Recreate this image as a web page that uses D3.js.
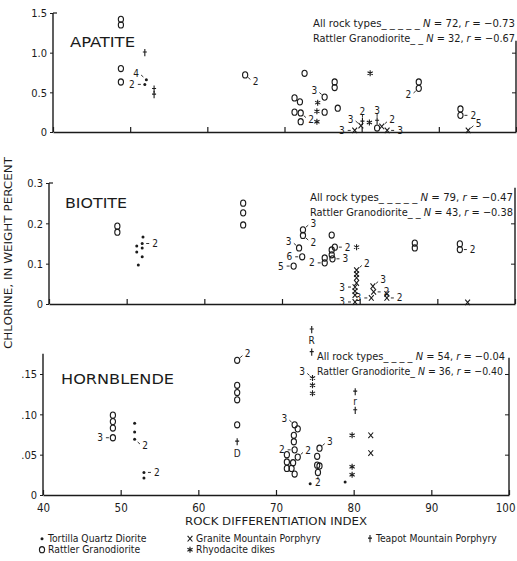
<!DOCTYPE html>
<html lang="en">
<head>
<meta charset="UTF-8">
<title>Chlorine vs rock differentiation index</title>
<script src="https://d3js.org/d3.v7.min.js"></script>
<style>
  body { margin: 0; background: #fff; }
  svg { display: block; }
  text { fill: #1b1b1b; font-family: "Liberation Sans Narrow", "DejaVu Sans Condensed", "Liberation Sans", sans-serif; }
</style>
</head>
<body>
<svg id="chart" width="517" height="561"></svg>
<script>
// ---- data ---------------------------------------------------------------
// point = [differentiation index, Cl weight percent, number of samples, side of the count]
const rockTypes = ["Tortilla Quartz Diorite", "Rattler Granodiorite", "Granite Mountain Porphyry", "Rhyodacite dikes", "Teapot Mountain Porphyry"];
const rockSymbols = ["dot", "circle", "x", "star", "plus"];

const xTickValues = [40, 50, 60, 70, 80, 90, 100];
const xTickLabels = ["40", "50", "60", "70", "80", "90", "100"];

// apatite
const apatiteTortilla = [[51.9, 0.60, 2, "w"], [52.1, 0.66, 4, "nw"]];
const apatiteRattler = [[48.8, 1.42], [48.8, 1.35], [48.8, 0.80], [48.8, 0.63], [64.9, 0.72, 2, "se"],
  [72.6, 0.74], [76.5, 0.63], [76.5, 0.56], [75.2, 0.44, 3, "nw"], [75.2, 0.25], [76.9, 0.30],
  [71.3, 0.43], [72.0, 0.38], [71.3, 0.25], [72.1, 0.24, 2, "se"], [72.1, 0.13], [82.0, 0.05],
  [87.4, 0.63], [87.4, 0.55, 2, "sw"], [92.8, 0.29], [92.8, 0.21, 2, "e"]];
const apatiteGranite = [[79.1, 0.02, 3, "w"], [79.9, 0.08, 3, "nw"], [83.3, 0.02, 3, "e"], [82.6, 0.07, 2, "ne"], [93.8, 0.02, 5, "ne"]];
const apatiteRhyodacite = [[81.1, 0.74], [74.3, 0.37], [74.2, 0.26], [74.2, 0.13], [81.0, 0.12]];
const apatiteTeapot = [[51.9, 1.00], [53.1, 0.54], [53.1, 0.47], [80.1, 0.13, 2, "n"], [82.0, 0.14, 3, "n"]];
const apatiteTicks = [0, 0.5, 1.0, 1.5];
const apatiteTickLabels = ["0", "0.5", "1.0", "1.5"];
const apatiteStats = [["All rock types_ _ _ _ _ ", 72, "\u22120.73"], ["Rattler Granodiorite_ _ ", 32, "\u22120.67"]];

// biotite
const biotiteTortilla = [[52.1, 0.166], [52.0, 0.150, 2, "e"], [51.3, 0.144], [52.0, 0.139], [51.3, 0.129], [52.0, 0.117], [51.5, 0.097]];
const biotiteRattler = [[48.8, 0.193], [48.8, 0.178], [65.0, 0.250], [65.0, 0.226], [65.0, 0.196],
  [72.7, 0.184, 3, "ne"], [72.7, 0.170, 2, "se"], [72.2, 0.139, 3, "nw"], [72.6, 0.117, 6, "w"], [71.5, 0.094, 5, "w"],
  [76.4, 0.171], [76.8, 0.141, 2, "e"], [76.4, 0.134], [76.4, 0.122], [76.5, 0.112, 3, "e"],
  [75.5, 0.114], [75.5, 0.102, 2, "w"], [87.1, 0.151], [87.1, 0.139], [92.9, 0.149], [92.9, 0.135, 2, "e"]];
const biotiteGranite = [[79.6, 0.084, 2, "ne"], [79.6, 0.074], [79.6, 0.065], [79.6, 0.052], [79.4, 0.042, 3, "w"],
  [79.4, 0.032], [79.4, 0.022], [79.4, 0.005, 3, "w"], [81.7, 0.044, 3, "ne"], [81.8, 0.030, 2, "e"],
  [81.5, 0.015, 3, "w"], [83.5, 0.025], [83.5, 0.015, 2, "e"], [93.9, 0.004]];
const biotiteRhyodacite = [[79.6, 0.141]];
const biotiteTeapot = [];
const biotiteTicks = [0, 0.1, 0.2, 0.3];
const biotiteTickLabels = ["0", "0.1", "0.2", "0.3"];
const biotiteStats = [["All rock types_ _ _ _ _ ", 79, "\u22120.47"], ["Rattler Granodiorite_ _ ", 43, "\u22120.38"]];

// hornblende
const hornblendeTortilla = [[51.8, 0.089], [51.8, 0.078], [51.8, 0.069, 2, "se"], [53.0, 0.028, 2, "e"], [53.0, 0.021], [78.9, 0.016], [74.4, 0.014]];
const hornblendeRattler = [[49.0, 0.099], [49.0, 0.091], [49.0, 0.083], [49.0, 0.071, 3, "w"],
  [65.0, 0.167, 2, "ne"], [65.0, 0.136], [65.0, 0.127], [65.0, 0.118], [65.0, 0.087],
  [72.4, 0.087, 3, "nw"], [72.8, 0.082], [72.3, 0.074], [72.3, 0.066], [72.4, 0.056, 2, "w"], [72.8, 0.047, 2, "ne"],
  [71.4, 0.050], [71.4, 0.041], [71.4, 0.033], [72.2, 0.040], [72.0, 0.033], [72.4, 0.026],
  [75.6, 0.058, 3, "ne"], [75.3, 0.048], [75.3, 0.037], [75.6, 0.036], [75.4, 0.028, 2, "s"]];
const hornblendeGranite = [[82.2, 0.074], [82.2, 0.052]];
const hornblendeRhyodacite = [[74.7, 0.145, 3, "nw"], [74.7, 0.136], [74.7, 0.126], [79.8, 0.074], [79.8, 0.035], [79.8, 0.025]];
const hornblendeTeapot = [[65.0, 0.066], [74.6, 0.205], [74.6, 0.177], [80.2, 0.128], [80.2, 0.105]];
const hornblendeNotes = [["D", 65.0, 0.052], ["R", 74.6, 0.191], ["r", 80.2, 0.116]];
const hornblendeTicks = [0, 0.05, 0.10, 0.15];
const hornblendeTickLabels = ["0", ".05", ".10", ".15"];
const hornblendeStats = [["All rock types_ _ _ _ ", 54, "\u22120.04"], ["Rattler Granodiorite_", 36, "\u22120.40"]];

// ---- layout (the scanned panels are not quite aligned) -------------------
const ink = "#1b1b1b";
const panels = [
  { title: "APATITE", series: [apatiteTortilla, apatiteRattler, apatiteGranite, apatiteRhyodacite, apatiteTeapot],
    ticks: apatiteTicks, tickLabels: apatiteTickLabels, stats: apatiteStats, notes: [],
    yMax: 1.5, axisTop: 1.5, rightTop: 1.15, left: 53, right: 516, bottom: 132, top: 13,
    titleX: 70, titleY: 47, titleLen: 65, statsX: 313, statsY: 27, statsLen: 202 },
  { title: "BIOTITE", series: [biotiteTortilla, biotiteRattler, biotiteGranite, biotiteRhyodacite, biotiteTeapot],
    ticks: biotiteTicks, tickLabels: biotiteTickLabels, stats: biotiteStats, notes: [],
    yMax: 0.3, axisTop: 0.3, rightTop: 0.288, left: 49, right: 515, bottom: 304, top: 183,
    titleX: 65, titleY: 208, titleLen: 62, statsX: 310, statsY: 201, statsLen: 203 },
  { title: "HORNBLENDE", series: [hornblendeTortilla, hornblendeRattler, hornblendeGranite, hornblendeRhyodacite, hornblendeTeapot],
    ticks: hornblendeTicks, tickLabels: hornblendeTickLabels, stats: hornblendeStats, notes: hornblendeNotes,
    yMax: 0.15, axisTop: 0.175, rightTop: 0.17, left: 43, right: 509, bottom: 495, top: 374,
    titleX: 61, titleY: 384, titleLen: 113, statsX: 317, statsY: 360, statsLen: 188 }
];

const svg = d3.select("#chart");

const symbolPaths = {
  x: "M-2.4,-2.8L2.4,2.8M2.4,-2.8L-2.4,2.8",
  plus: "M0,-3.6V3.6M-2,-0.6H2",
  star: "M0,-3V3M-2.6,-1.5L2.6,1.5M2.6,-1.5L-2.6,1.5"
};

function drawSymbol(g, kind) {
  if (kind === "dot") {
    g.append("circle").attr("r", 1.5).attr("fill", ink);
  } else if (kind === "circle") {
    g.append("ellipse").attr("rx", 2.6).attr("ry", 3.1)
      .attr("fill", "none").attr("stroke", ink).attr("stroke-width", 1.1);
  } else {
    g.append("path").attr("d", symbolPaths[kind])
      .attr("fill", "none").attr("stroke", ink).attr("stroke-width", 1.1);
  }
}

const dirs = { e: [1, 0], w: [-1, 0], n: [0, -1], s: [0, 1], ne: [0.75, -0.66], nw: [-0.75, -0.66], se: [0.75, 0.66], sw: [-0.75, 0.66] };

panels.forEach(p => {
  const x = d3.scaleLinear().domain([40, 100]).range([p.left, p.right]);
  const y = d3.scaleLinear().domain([0, p.yMax]).range([p.bottom, p.top]);
  const g = svg.append("g");
  const isLast = p.title === "HORNBLENDE";

  // left axis
  const yAxis = d3.axisLeft(y).tickValues(p.ticks).tickSize(3).tickSizeOuter(0)
    .tickFormat((d, i) => p.tickLabels[i]);
  const ya = g.append("g").attr("transform", `translate(${p.left},0)`).call(yAxis);
  ya.select(".domain").attr("d", `M0,${y(0)}V${y(p.axisTop)}`);
  ya.selectAll("line").attr("stroke", ink);
  ya.selectAll(".domain").attr("stroke", ink).attr("stroke-width", 1.4);
  ya.selectAll("text").attr("font-size", 11).attr("font-family", "Liberation Sans, sans-serif").attr("dy", "0.35em");
  if (p.axisTop === p.yMax) {
    g.append("line").attr("x1", p.left).attr("x2", p.left + 4).attr("y1", y(p.yMax)).attr("y2", y(p.yMax))
      .attr("stroke", ink).attr("stroke-width", 1.2);
  }

  // right axis, ticks pointing inward
  const ra = g.append("g").attr("transform", `translate(${p.right},0)`)
    .call(d3.axisLeft(y).tickValues(p.ticks.filter(t => t > 0 && t < p.rightTop)).tickSize(4).tickSizeOuter(0).tickFormat(""));
  ra.select(".domain").attr("d", `M0,${y(0)}V${y(p.rightTop)}`).attr("stroke", ink).attr("stroke-width", 1.4);
  ra.selectAll("line").attr("stroke", ink);

  // bottom axis, ticks pointing up
  const xa = g.append("g").attr("transform", `translate(0,${p.bottom})`)
    .call(d3.axisBottom(x).tickValues(xTickValues).tickSize(-5).tickSizeOuter(0).tickPadding(9)
      .tickFormat((d, i) => isLast ? xTickLabels[i] : ""));
  xa.select(".domain").attr("stroke", ink).attr("stroke-width", 1.6);
  xa.selectAll("line").attr("stroke", ink).attr("stroke-width", 1.2);
  xa.selectAll("text").attr("font-size", 11.5).attr("font-family", "Liberation Sans, sans-serif");
  // keep the last label inside the page
  xa.selectAll(".tick text").filter(d => d === 100).attr("text-anchor", "end").attr("dx", 6);

  // panel title
  g.append("text").attr("x", p.titleX).attr("y", p.titleY).attr("font-size", 13.5)
    .attr("font-family", "Liberation Sans, sans-serif")
    .attr("textLength", p.titleLen).attr("lengthAdjust", "spacingAndGlyphs").text(p.title);

  // correlation statistics
  p.stats.forEach((s, i) => {
    const t = g.append("text").attr("x", p.statsX).attr("y", p.statsY + i * 15).attr("font-size", 10.5)
      .attr("textLength", p.statsLen - (i === 1 && isLast ? 2 : 0)).attr("lengthAdjust", "spacingAndGlyphs");
    t.append("tspan").text(s[0] + " ");
    t.append("tspan").attr("font-style", "italic").text("N");
    t.append("tspan").text(" = " + s[1] + ", ");
    t.append("tspan").attr("font-style", "italic").text("r");
    t.append("tspan").text(" = " + s[2]);
  });

  // marks
  p.series.forEach((pts, k) => {
    const kind = rockSymbols[k];
    pts.forEach(d => {
      const px = x(d[0]), py = y(d[1]);
      const m = g.append("g").attr("transform", `translate(${px},${py})`);
      drawSymbol(m, kind);
      if (d[2]) {
        const [dx, dy] = dirs[d[3] || "ne"];
        g.append("line")
          .attr("x1", px + dx * 4).attr("y1", py + dy * 4)
          .attr("x2", px + dx * 7).attr("y2", py + dy * 7)
          .attr("stroke", ink).attr("stroke-width", 0.9);
        g.append("text")
          .attr("x", px + dx * 10).attr("y", py + dy * 10)
          .attr("dy", "0.35em").attr("font-size", 10)
          .attr("text-anchor", dx > 0.3 ? "start" : dx < -0.3 ? "end" : "middle")
          .text(d[2]);
      }
    });
  });

  p.notes.forEach(n => {
    g.append("text").attr("x", x(n[1])).attr("y", y(n[2])).attr("dy", "0.35em")
      .attr("text-anchor", "middle").attr("font-size", 10)
      .attr("font-family", "Liberation Sans, sans-serif").text(n[0]);
  });
});

// axis titles
svg.append("text").attr("transform", "translate(12,253) rotate(-90)").attr("text-anchor", "middle")
  .attr("font-size", 10).attr("font-family", "Liberation Sans, sans-serif")
  .attr("textLength", 192).attr("lengthAdjust", "spacingAndGlyphs")
  .text("CHLORINE, IN WEIGHT PERCENT");
svg.append("text").attr("x", 276).attr("y", 525).attr("text-anchor", "middle")
  .attr("font-size", 11).attr("font-family", "Liberation Sans, sans-serif")
  .attr("textLength", 182).attr("lengthAdjust", "spacingAndGlyphs")
  .text("ROCK DIFFERENTIATION INDEX");

// rock type key
const keyPos = [[42, 542], [42, 553], [190, 542], [190, 553], [370, 542]];
rockTypes.forEach((name, i) => {
  const [kx, ky] = keyPos[i];
  const m = svg.append("g").attr("transform", `translate(${kx},${ky - 3.3})`);
  drawSymbol(m, rockSymbols[i]);
  svg.append("text").attr("x", kx + 6).attr("y", ky).attr("font-size", 10.3).text(name);
});
</script>
</body>
</html>
